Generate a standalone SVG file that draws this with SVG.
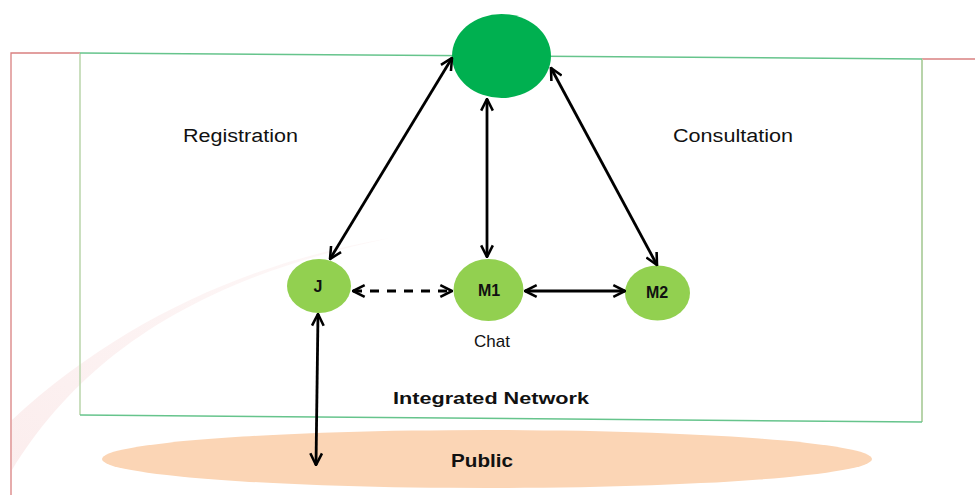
<svg xmlns="http://www.w3.org/2000/svg" width="975" height="495" viewBox="0 0 975 495">
<style>
.lbl{font-family:"Liberation Sans",Arial,sans-serif;fill:#111;}
.node text{font-family:"Liberation Sans",Arial,sans-serif;font-weight:bold;font-size:16px;fill:#111;text-anchor:middle;}
.conn{stroke:#000;stroke-width:2.8;fill:none;marker-start:url(#ah);marker-end:url(#ah);}
</style>
<defs>
<marker id="ah" viewBox="0 0 12 12" refX="11" refY="6" markerWidth="5" markerHeight="5" orient="auto-start-reverse" markerUnits="strokeWidth">
<path d="M1,1 L11,6 L1,11" fill="none" stroke="#000" stroke-width="2.2"/>
</marker>
<linearGradient id="sw" x1="0" y1="1" x2="1" y2="0">
<stop offset="0" stop-color="#f3c4c4" stop-opacity="0.3"/>
<stop offset="1" stop-color="#f3c4c4" stop-opacity="0.12"/>
</linearGradient>
</defs>
<rect width="975" height="495" fill="#fff"/>
<!-- faint swoosh -->
<path d="M12,470 C80,360 190,280 390,238 C250,262 120,320 12,420 Z" fill="url(#sw)"/>
<!-- frame lines -->
<polyline points="11,495 11,53 80,53" fill="none" stroke="#d98080" stroke-width="1.3"/>
<line x1="922" y1="59" x2="975" y2="59" stroke="#d98080" stroke-width="1.3"/>
<line x1="80" y1="53" x2="80" y2="415" stroke="#b8d4aa" stroke-width="1.5"/>
<line x1="922" y1="59" x2="922" y2="422" stroke="#b8d4aa" stroke-width="2"/>
<line x1="80" y1="53" x2="922" y2="59" stroke="#66c48c" stroke-width="1.5"/>
<line x1="80" y1="415" x2="922" y2="422" stroke="#66c48c" stroke-width="1.5"/>
<!-- Public -->
<g id="public">
<ellipse cx="487" cy="459" rx="385" ry="29" fill="#fbd5b5"/>
<text class="lbl" x="482" y="467" font-size="18" font-weight="bold" text-anchor="middle" textLength="62" lengthAdjust="spacingAndGlyphs">Public</text>
</g>
<g id="hub">
<ellipse cx="501.5" cy="56" rx="49.5" ry="42" fill="#00b050"/>
</g>
<g id="J" class="node">
<ellipse cx="319" cy="286" rx="32" ry="27" fill="#92d050"/>
<text x="318" y="292">J</text>
</g>
<g id="M1" class="node">
<ellipse cx="488.5" cy="290" rx="35" ry="31" fill="#92d050"/>
<text x="489" y="296">M1</text>
</g>
<g id="M2" class="node">
<ellipse cx="657.5" cy="293" rx="32.5" ry="27.5" fill="#92d050"/>
<text x="657" y="298">M2</text>
</g>
<g id="connectors">
<line class="conn" x1="452" y1="58" x2="330" y2="259"/>
<line class="conn" x1="487" y1="99" x2="487" y2="257"/>
<line class="conn" x1="551" y1="68" x2="657" y2="265"/>
<line class="conn" x1="353" y1="291" x2="452" y2="291" stroke-dasharray="9,8"/>
<line class="conn" x1="525" y1="291" x2="625" y2="291"/>
<line class="conn" x1="318" y1="314" x2="316" y2="465"/>
</g>
<text class="lbl" x="183" y="142" font-size="18" textLength="115" lengthAdjust="spacingAndGlyphs">Registration</text>
<text class="lbl" x="673" y="142" font-size="18" textLength="120" lengthAdjust="spacingAndGlyphs">Consultation</text>
<text class="lbl" x="492" y="347" font-size="17" text-anchor="middle">Chat</text>
<text class="lbl" x="393" y="404" font-size="17" font-weight="bold" textLength="196" lengthAdjust="spacingAndGlyphs">Integrated Network</text>
</svg>
